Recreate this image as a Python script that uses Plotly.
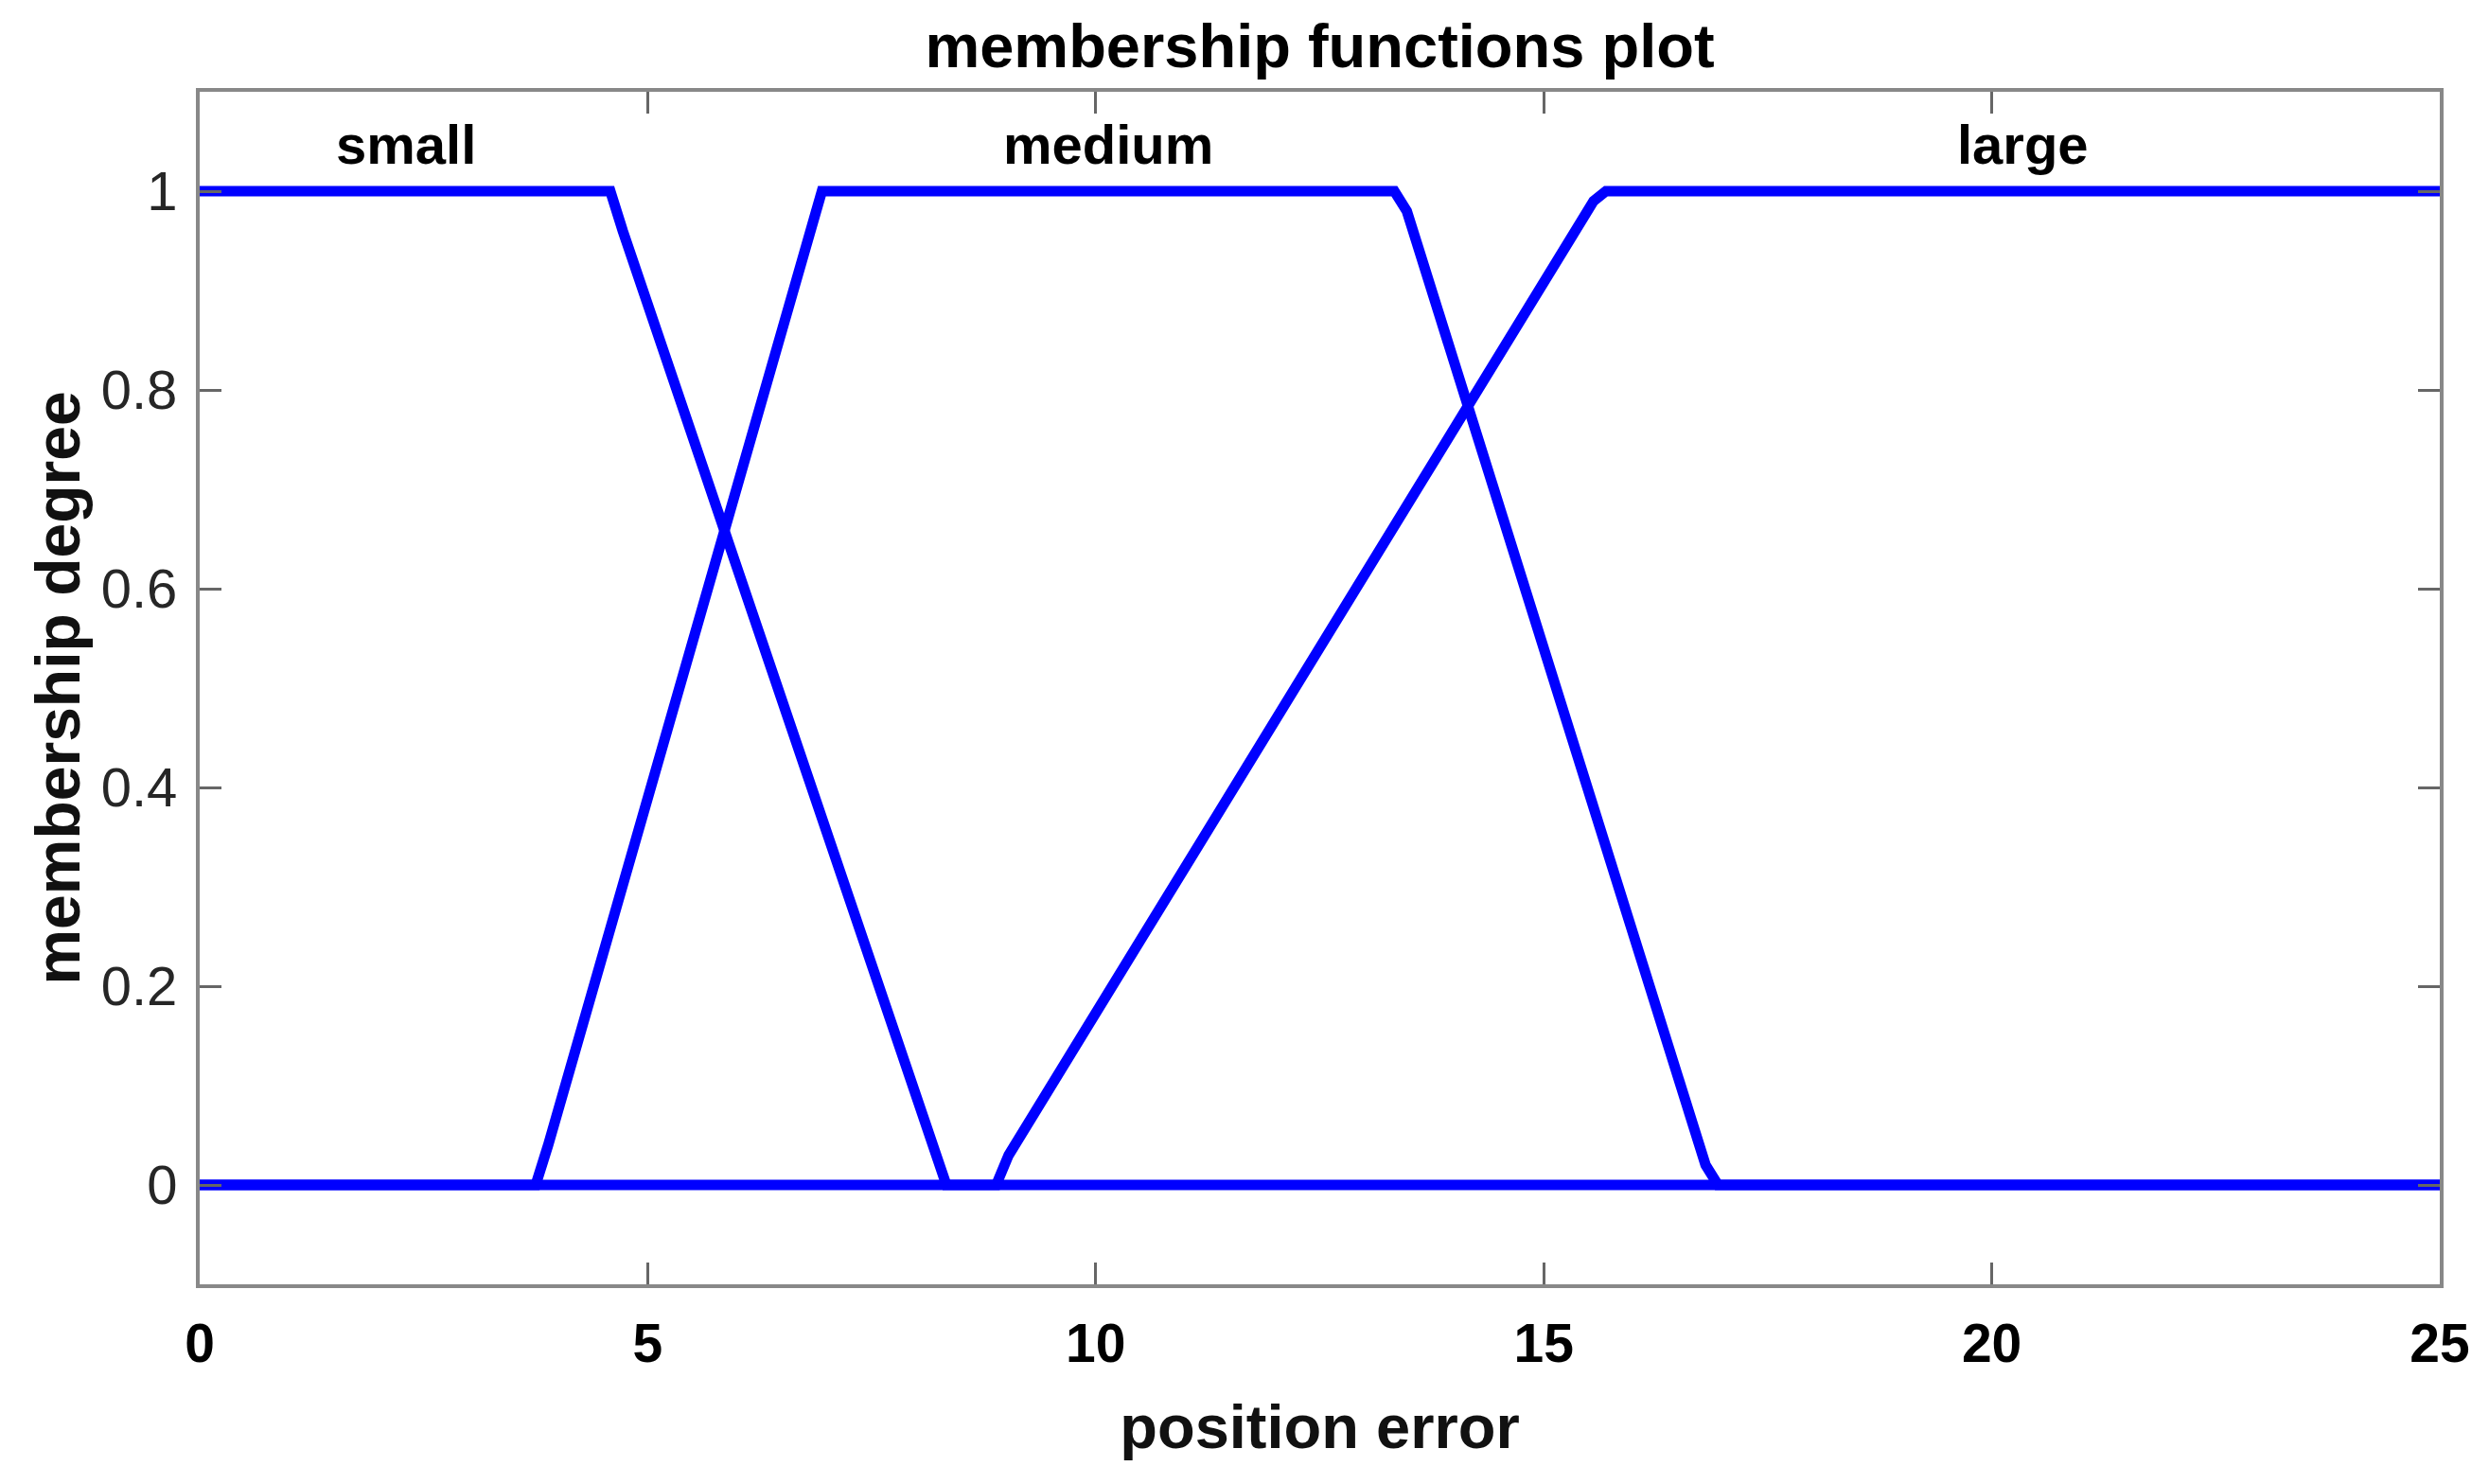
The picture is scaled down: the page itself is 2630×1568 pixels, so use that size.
import plotly.graph_objects as go

small_x = [0, 4.583, 4.722, 8.194, 8.333, 25]
small_y = [1, 1, 0.96, 0.04, 0, 0]

medium_x = [0, 3.75, 3.889, 6.806, 6.944, 13.333, 13.472, 16.806, 16.944, 25]
medium_y = [0, 0, 0.04, 0.96, 1, 1, 0.98, 0.02, 0, 0]

large_x = [0, 8.889, 9.028, 15.556, 15.694, 25]
large_y = [0, 0, 0.03, 0.99, 1, 1]

mf_names = ["small", "medium", "large"]
mf_label_x = [2.30, 10.14, 20.35]
mf_label_y = 1.047

x_ticks = [0, 5, 10, 15, 20, 25]
y_ticks = [0, 0.2, 0.4, 0.6, 0.8, 1]

FONT = "Liberation Sans"
BLUE = "#0000ff"
FRAME = "#888888"

fig = go.Figure()
for xs, ys, name in [(small_x, small_y, "small"),
                     (medium_x, medium_y, "medium"),
                     (large_x, large_y, "large")]:
    fig.add_trace(go.Scatter(
        x=xs, y=ys, mode="lines", name=name,
        line=dict(color=BLUE, width=11),
        showlegend=False, hoverinfo="skip"
    ))

for name, lx in zip(mf_names, mf_label_x):
    fig.add_annotation(
        x=lx, y=mf_label_y, xref="x", yref="y", text=name,
        showarrow=False, xanchor="center", yanchor="middle",
        font=dict(family=FONT, size=58, color="black", weight="bold")
    )

# page body adds an 8px margin, so the figure is a bit smaller than the window
fig.update_layout(
    width=2614, height=1552,
    paper_bgcolor="white", plot_bgcolor="white",
    margin=dict(l=203, r=40, t=89, b=203),
    title=dict(
        text="membership functions plot",
        x=0.5, xanchor="center", xref="paper",
        y=1 - 40 / 1552, yanchor="middle", yref="container",
        font=dict(family=FONT, size=65, color="black", weight="bold")
    ),
    xaxis=dict(
        range=[0, 25], tickvals=x_ticks, ticktext=[str(v) for v in x_ticks],
        showgrid=False, zeroline=False,
        showline=True, linecolor=FRAME, linewidth=4, mirror="ticks",
        ticks="inside", ticklen=23, tickwidth=3, tickcolor="#666666",
        tickfont=dict(family=FONT, size=57, color="black", weight="bold"),
        ticklabelstandoff=10,
        title=dict(text="position error", standoff=35,
                   font=dict(family=FONT, size=65, color="#111111",
                             weight="bold"))
    ),
    yaxis=dict(
        range=[-0.1, 1.1], tickvals=y_ticks,
        ticktext=["0", "0.2", "0.4", "0.6", "0.8", "1"],
        showgrid=False, zeroline=False,
        showline=True, linecolor=FRAME, linewidth=4, mirror="ticks",
        ticks="inside", ticklen=23, tickwidth=3, tickcolor="#666666",
        tickfont=dict(family=FONT, size=58, color="#262626"),
        ticklabelstandoff=8,
        title=dict(text="membership degree", standoff=2,
                   font=dict(family=FONT, size=66, color="#111111",
                             weight="bold"))
    )
)

fig.write_html("out.html")
